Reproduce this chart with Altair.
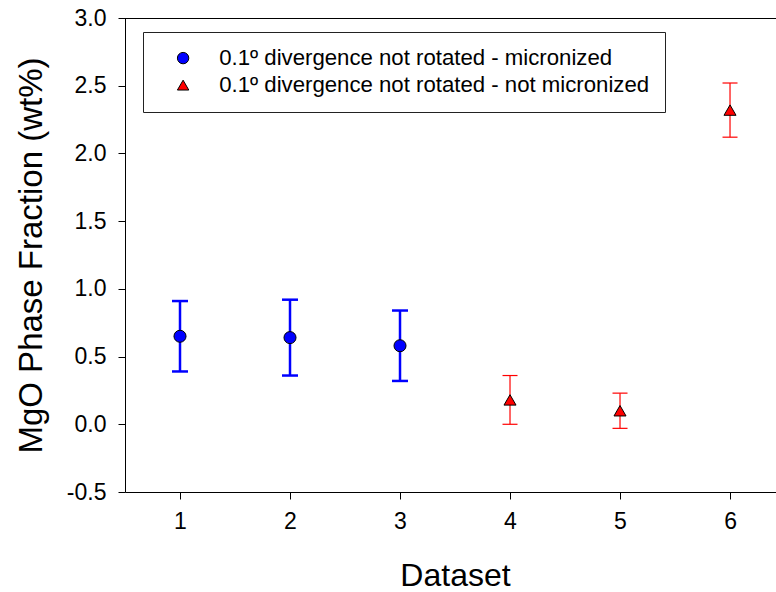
import altair as alt
import pandas as pd

dataset = [1, 2, 3, 4, 5, 6]
mgo = [0.65, 0.64, 0.58, 0.18, 0.10, 2.32]
err = [0.26, 0.28, 0.26, 0.18, 0.13, 0.20]
s1 = "0.1º divergence not rotated - micronized"
s2 = "0.1º divergence not rotated - not micronized"
series = [s1, s1, s1, s2, s2, s2]

df = pd.DataFrame({"dataset": dataset, "mgo": mgo, "err": err, "series": series})
df["lo"] = df["mgo"] - df["err"]
df["hi"] = df["mgo"] + df["err"]

W, H = 651, 474
FONT = "Liberation Sans"

xs = alt.Scale(domain=[0.5, 6.418], nice=False, zero=False)
ys = alt.Scale(domain=[-0.5, 3.0], nice=False, zero=False)

xax = alt.Axis(values=dataset, format="d", title="Dataset", grid=False,
               tickSize=7, labelPadding=11, titleX=330, titleY=83,
               titleBaseline="middle", titleFontSize=32)
yax = alt.Axis(values=[-0.5, 0, 0.5, 1.0, 1.5, 2.0, 2.5, 3.0],
               labelExpr="replace(format(datum.value, '.1f'), '\u2212', '-')",
               title="MgO Phase Fraction (wt%)", grid=False, tickSize=7,
               labelPadding=12, titleX=-94, titleY=237, titleBaseline="middle",
               titleAngle=-90, titleFontSize=33)

base = alt.Chart(df)

x_enc = alt.X("dataset:Q", scale=xs, axis=xax)

layers = []
specs = [(s1, "#0000FF", 2.5, 16), (s2, "#FF0000", 1.2, 15)]
for s, col, sw, cap in specs:
    sub = base.transform_filter(alt.datum.series == s)
    layers.append(sub.mark_rule(color=col, strokeWidth=sw).encode(
        x=x_enc, y=alt.Y("lo:Q", scale=ys, axis=yax), y2="hi:Q"))
    layers.append(sub.mark_tick(color=col, thickness=sw, size=cap, orient="horizontal", opacity=1).encode(
        x=x_enc, y=alt.Y("lo:Q", scale=ys)))
    layers.append(sub.mark_tick(color=col, thickness=sw, size=cap, orient="horizontal", opacity=1).encode(
        x=x_enc, y=alt.Y("hi:Q", scale=ys)))

leg = alt.Legend(title=None, orient="none", legendX=18, legendY=14,
                 strokeColor="#222222", padding=15, symbolOffset=14,
                 labelOffset=25, rowPadding=4, symbolSize=130,
                 symbolStrokeWidth=1,
                 labelFontSize=22.2, labelFont=FONT, labelColor="black",
                 labelLimit=0)

points = base.mark_point(filled=True, strokeWidth=1, opacity=1, size=145).encode(
    x=x_enc,
    y=alt.Y("mgo:Q", scale=ys),
    fill=alt.Fill("series:N", scale=alt.Scale(domain=[s1, s2], range=["#0000FF", "#FF0000"]),
                  legend=leg),
    shape=alt.Shape("series:N", scale=alt.Scale(domain=[s1, s2], range=["circle", "triangle-up"]),
                    legend=leg),
    stroke=alt.Stroke("series:N", scale=alt.Scale(domain=[s1, s2], range=["black", "black"]),
                      legend=leg),
)

topline = alt.Chart(df).mark_rule(color="black", strokeWidth=1).encode(
    x=alt.value(0), x2=alt.value(W), y=alt.value(0.5))

chart = alt.layer(topline, *layers, points).properties(
    width=W, height=H,
    background="white",
    autosize=alt.AutoSizeParams(type="none"),
    padding={"left": 125, "top": 18, "right": 0, "bottom": 100},
).configure_view(stroke=None).configure_axis(
    labelFont=FONT, titleFont=FONT, labelFontSize=23,
    labelColor="black", titleColor="black", domainColor="black", tickColor="black",
    titleFontWeight="normal", domainWidth=1, tickWidth=1
)

chart.save("out.html", embed_options={"renderer": "svg", "actions": False})
